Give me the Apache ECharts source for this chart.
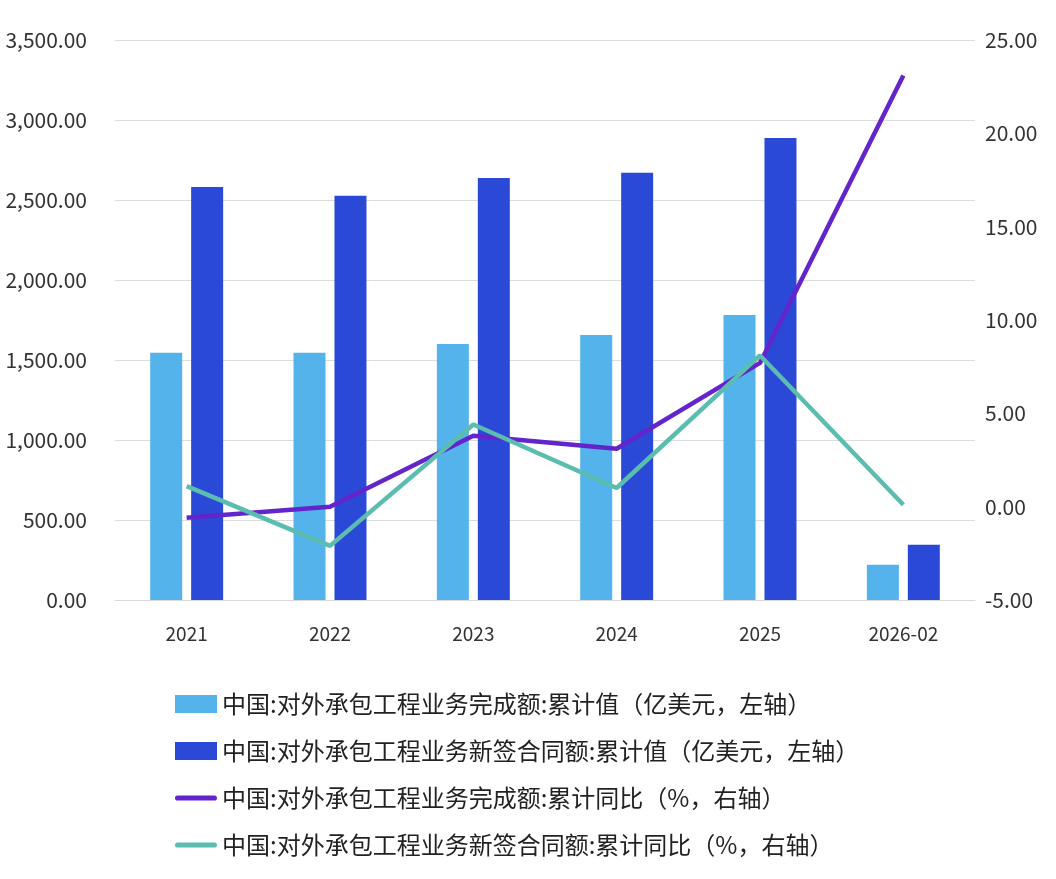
<!DOCTYPE html>
<html><head><meta charset="utf-8">
<script src="https://cdn.jsdelivr.net/npm/echarts@6/dist/echarts.min.js"></script>
<style>html,body{margin:0;padding:0;background:#fff}#c{width:1056px;height:879px}</style>
</head><body><div id="c"></div>
<script>
const categories = ['2021','2022','2023','2024','2025','2026-02'];
const completedValue = [1545, 1545, 1600, 1656, 1782, 220];
const newContractValue = [2582, 2526, 2638, 2670, 2887, 345];
const completedYoY = [-0.6, 0.0, 3.8, 3.1, 7.7, 23.1];
const newContractYoY = [1.1, -2.1, 4.4, 1.0, 8.1, 0.1];
const leftTicks = {min: 0, max: 3500, interval: 500};
const rightTicks = {min: -5, max: 25, interval: 5};
const names = [
  '中国:对外承包工程业务完成额:累计值（亿美元，左轴）',
  '中国:对外承包工程业务新签合同额:累计值（亿美元，左轴）',
  '中国:对外承包工程业务完成额:累计同比（%，右轴）',
  '中国:对外承包工程业务新签合同额:累计同比（%，右轴）'
];
const font = '"Noto Sans CJK SC","Noto Sans",sans-serif';
const lineIcon = 'path://M2,0 L38,0 A2.5,2.5 0 0 1 38,5 L2,5 A2.5,2.5 0 0 1 2,0 Z';
const chart = echarts.init(document.getElementById('c'));
chart.setOption({
  animation: false,
  textStyle: {fontFamily: font},
  grid: {left: 115, right: 81, top: 40, bottom: 279},
  legend: {
    orient: 'vertical', left: 170, top: 687, itemGap: 23, itemWidth: 42, itemHeight: 18,
    textStyle: {fontSize: 24, color: '#222', fontFamily: font},
    data: [
      {name: names[0], icon: 'rect'},
      {name: names[1], icon: 'rect'},
      {name: names[2], icon: lineIcon},
      {name: names[3], icon: lineIcon}
    ]
  },
  xAxis: {
    type: 'category', data: categories,
    axisLine: {show: true, lineStyle: {color: '#d9d9d9'}},
    axisTick: {show: false},
    axisLabel: {fontSize: 19, color: '#333', margin: 24, fontFamily: font}
  },
  yAxis: [
    {type: 'value', min: leftTicks.min, max: leftTicks.max, interval: leftTicks.interval,
     axisLabel: {fontSize: 21, color: '#333', margin: 28, formatter: v => v.toLocaleString('en-US', {minimumFractionDigits: 2, maximumFractionDigits: 2}), fontFamily: font},
     splitLine: {lineStyle: {color: '#dcdcdc'}}, axisLine: {show: false}, axisTick: {show: false}},
    {type: 'value', min: rightTicks.min, max: rightTicks.max, interval: rightTicks.interval,
     axisLabel: {fontSize: 21, color: '#333', margin: 10, formatter: v => v.toFixed(2), fontFamily: font},
     splitLine: {show: false}, axisLine: {show: false}, axisTick: {show: false}}
  ],
  series: [
    {name: names[0], type: 'bar', data: completedValue, barWidth: 32, barGap: '28%', itemStyle: {color: '#53b3ea'}},
    {name: names[1], type: 'bar', data: newContractValue, barWidth: 32, barGap: '28%', itemStyle: {color: '#2a49d6'}},
    {name: names[2], type: 'line', yAxisIndex: 1, data: completedYoY, symbol: 'none', lineStyle: {color: '#6324cc', width: 4.5}, itemStyle: {color: '#6324cc'}},
    {name: names[3], type: 'line', yAxisIndex: 1, data: newContractYoY, symbol: 'none', lineStyle: {color: '#5bbcb0', width: 4.5}, itemStyle: {color: '#5bbcb0'}}
  ]
});
</script></body></html>
